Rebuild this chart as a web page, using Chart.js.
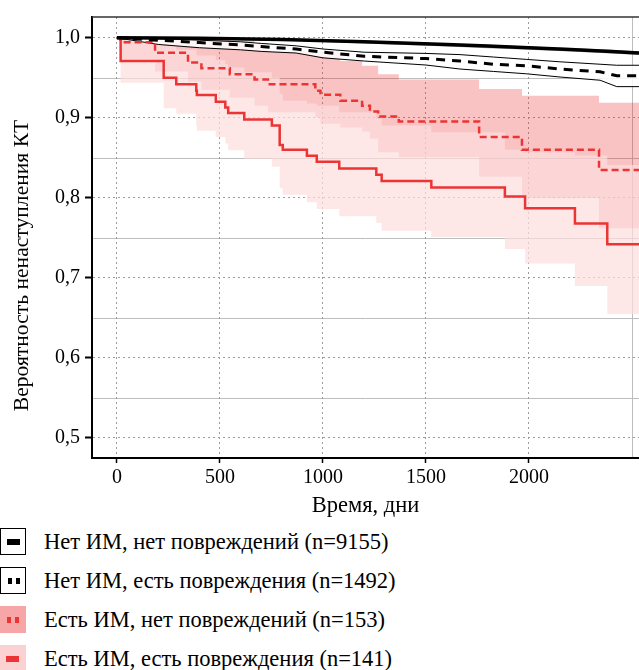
<!DOCTYPE html>
<html>
<head>
<meta charset="utf-8">
<script src="https://cdn.jsdelivr.net/npm/chart.js@4.4.1/dist/chart.umd.min.js"></script>
<style>
  body { margin: 0; background: #fff; width: 639px; height: 670px; overflow: hidden; position: relative; font-family: "Liberation Serif", serif; }
  #km { position: absolute; left: 0; top: 0; }
  .row { position: absolute; left: 0; width: 639px; height: 27px; }
  .key { position: absolute; left: 0; top: 0; width: 26px; height: 27px; box-sizing: border-box; }
  .key i { position: absolute; top: 11px; height: 6px; background: #000; }
  .lbl { position: absolute; left: 44px; top: 0; line-height: 27px; font-size: 22.5px; color: #000; white-space: nowrap; }
</style>
</head>
<body>
<canvas id="km" width="639" height="520"></canvas>
<div id="legend"></div>
<script>
// Нет ИМ, нет повреждений
const tBlack = [0, 400, 800, 1200, 1600, 1800, 2000, 2200, 2400, 2534];
const sBlack = [1, 0.9993, 0.998, 0.995, 0.9915, 0.9897, 0.9875, 0.9855, 0.983, 0.981];
const hiBlack = [1, 1.0, 0.9993, 0.9965, 0.993, 0.9912, 0.9892, 0.9872, 0.985, 0.983];
const loBlack = [1, 0.998, 0.9965, 0.993, 0.989, 0.987, 0.985, 0.983, 0.9805, 0.9785];

// Нет ИМ, есть повреждения
const tBlackDash = [0, 200, 400, 600, 700, 870, 1000, 1200, 1500, 1665, 1827, 1989, 2151, 2345, 2426, 2534];
const sBlackDash = [1, 0.997, 0.994, 0.991, 0.989, 0.986, 0.982, 0.977, 0.974, 0.971, 0.967, 0.965, 0.961, 0.9575, 0.9525, 0.9525];
const hiBlackDash = [1, 0.999, 0.997, 0.995, 0.993, 0.99, 0.986, 0.982, 0.9805, 0.979, 0.976, 0.973, 0.970, 0.967, 0.9657, 0.9657];
const loBlackDash = [1, 0.9917, 0.9876, 0.985, 0.983, 0.981, 0.975, 0.971, 0.966, 0.961, 0.958, 0.955, 0.951, 0.947, 0.939, 0.939];

// Есть ИМ, нет повреждений
const tRedDash = [0, 18, 185, 345, 410, 548, 668, 733, 963, 988, 1084, 1190, 1228, 1268, 1368, 1758, 1966, 2340, 2534];
const sRedDash = [1, 0.9946, 0.9814, 0.969, 0.962, 0.9545, 0.948, 0.942, 0.934, 0.929, 0.9215, 0.915, 0.908, 0.9017, 0.8955, 0.876, 0.860, 0.8347, 0.8347];
const hiRedDash = [1, 1, 1, 0.999, 0.998, 0.996, 0.993, 0.9835, 0.9835, 0.9835, 0.971, 0.965, 0.965, 0.9545, 0.948, 0.936, 0.9277, 0.919, 0.919];
const loRedDash = [1, 0.973, 0.958, 0.945, 0.935, 0.925, 0.915, 0.907, 0.901, 0.8925, 0.888, 0.883, 0.874, 0.857, 0.851, 0.8265, 0.80, 0.762, 0.762];

// Есть ИМ, есть повреждения
const tRed = [0, 18, 227, 288, 385, 388, 480, 526, 540, 618, 752, 790, 805, 922, 970, 1079, 1259, 1285, 1526, 1883, 1981, 2223, 2380, 2534];
const sRed = [1, 0.971, 0.950, 0.942, 0.934, 0.9285, 0.920, 0.913, 0.906, 0.898, 0.8905, 0.866, 0.860, 0.8525, 0.845, 0.8367, 0.829, 0.821, 0.813, 0.8016, 0.787, 0.768, 0.742, 0.742];
const hiRed = [1, 1, 0.99, 0.985, 0.98, 0.978, 0.972, 0.967, 0.963, 0.957, 0.95, 0.93, 0.9215, 0.918, 0.915, 0.907, 0.899, 0.8905, 0.882, 0.86, 0.857, 0.853, 0.841, 0.841];
const loRed = [1, 0.944, 0.912, 0.905, 0.89, 0.884, 0.876, 0.868, 0.8595, 0.849, 0.839, 0.812, 0.804, 0.7945, 0.786, 0.777, 0.7685, 0.759, 0.751, 0.736, 0.718, 0.690, 0.655, 0.655];

const xTicks = [0, 500, 1000, 1500, 2000];
const xMinor = [2500];
const yTicks = [0.5, 0.6, 0.7, 0.8, 0.9, 1.0];
const yTickLabels = ["0,5", "0,6", "0,7", "0,8", "0,9", "1,0"];
const yMinor = [0.55, 0.65, 0.75, 0.85, 0.95];
const xTitle = "Время, дни";
const yTitle = "Вероятность ненаступления КТ";

const legendLabels = [
  "Нет ИМ, нет повреждений (n=9155)",
  "Нет ИМ, есть повреждения (n=1492)",
  "Есть ИМ, нет повреждений (n=153)",
  "Есть ИМ, есть повреждения (n=141)",
];

const RED = "#ec3434";

function pts(t, v) {
  return t.map((x, i) => ({ x, y: v[i] }));
}

function line(data, extra) {
  return Object.assign({ data, pointRadius: 0, borderWidth: 0, fill: false, tension: 0 }, extra);
}

Chart.defaults.font.family = "'Liberation Serif', serif";
Chart.defaults.color = "#000";

// minor solid grid lines under everything, frame top and the y title on top
const extras = {
  id: "extras",
  beforeDraw(chart) {
    const { ctx, chartArea: a, scales } = chart;
    ctx.save();
    ctx.strokeStyle = "#bdbdbd";
    ctx.lineWidth = 1;
    yMinor.forEach((v) => {
      const y = Math.round(scales.y.getPixelForValue(v)) + 0.5;
      ctx.beginPath(); ctx.moveTo(a.left, y); ctx.lineTo(a.right, y); ctx.stroke();
    });
    xMinor.forEach((v) => {
      const x = Math.round(scales.x.getPixelForValue(v)) + 0.5;
      ctx.beginPath(); ctx.moveTo(x, a.top); ctx.lineTo(x, a.bottom); ctx.stroke();
    });
    ctx.restore();
  },
  afterDraw(chart) {
    const { ctx, chartArea: a } = chart;
    ctx.save();
    ctx.strokeStyle = "#333";
    ctx.lineWidth = 1.5;
    ctx.beginPath(); ctx.moveTo(a.left, a.top); ctx.lineTo(a.right, a.top); ctx.stroke();

    // y title sits low and is set a little narrow and tall
    ctx.translate(23, (a.top + a.bottom) / 2 + 28);
    ctx.rotate(-Math.PI / 2);
    ctx.scale(1.08, 1);
    ctx.fillStyle = "#000";
    ctx.font = "20px 'Liberation Serif', serif";
    ctx.textAlign = "center";
    ctx.textBaseline = "middle";
    ctx.fillText(yTitle, 0, 0);
    ctx.restore();
  },
};

new Chart(document.getElementById("km"), {
  type: "line",
  data: {
    datasets: [
      line(pts(tBlack, sBlack), { borderColor: "#000", borderWidth: 3.5 }),
      line(pts(tBlackDash, sBlackDash), { borderColor: "#000", borderWidth: 3, borderDash: [9, 7] }),
      line(pts(tRed, sRed), { borderColor: RED, borderWidth: 2.5, stepped: true }),
      line(pts(tRedDash, sRedDash), { borderColor: RED, borderWidth: 2.5, borderDash: [7, 4], stepped: true }),
      line(pts(tBlack, hiBlack), { fill: "+1", backgroundColor: "rgba(60,60,60,0.45)" }),
      line(pts(tBlack, loBlack), {}),
      line(pts(tBlackDash, hiBlackDash), { borderColor: "#000", borderWidth: 1, fill: "+1", backgroundColor: "rgba(255,255,255,0.85)" }),
      line(pts(tBlackDash, loBlackDash), { borderColor: "#000", borderWidth: 1 }),
      line(pts(tRed, hiRed), { stepped: true, fill: "+1", backgroundColor: "rgba(252,221,221,0.71)" }),
      line(pts(tRed, loRed), { stepped: true }),
      line(pts(tRedDash, hiRedDash), { stepped: true, fill: "+1", backgroundColor: "rgba(235,40,40,0.28)" }),
      line(pts(tRedDash, loRedDash), { stepped: true }),
    ],
  },
  options: {
    responsive: false,
    animation: false,
    events: [],
    layout: { padding: { top: 14, right: 0, left: 0, bottom: 0 } },
    plugins: {
      legend: { display: false },
      tooltip: { enabled: false },
      filler: { drawTime: "beforeDatasetsDraw" },
    },
    scales: {
      x: {
        type: "linear",
        min: -121,
        max: 2534,
        afterBuildTicks: (s) => { s.ticks = xTicks.map((v) => ({ value: v })); },
        afterFit: (s) => { s.height = 62; },
        ticks: { font: { size: 20 }, color: "#000", padding: 3, maxRotation: 0, callback: (v) => String(v) },
        grid: { color: "#9c9c9c", lineWidth: 1, tickColor: "#000", tickLength: 5, tickWidth: 1.5 },
        border: { display: true, color: "#000", width: 2, dash: [2, 3] },
        title: { display: true, text: xTitle, font: { size: 22.5 }, color: "#000", padding: { top: 0, bottom: 0 } },
      },
      y: {
        min: 0.475,
        max: 1.026,
        afterBuildTicks: (s) => { s.ticks = yTicks.map((v) => ({ value: v })); },
        afterFit: (s) => { s.width = 92; },
        ticks: { font: { size: 20 }, color: "#000", padding: 5, callback: (v, i) => yTickLabels[i] },
        grid: { color: "#9c9c9c", lineWidth: 1, tickColor: "#000", tickLength: 7, tickWidth: 2 },
        border: { display: true, color: "#000", width: 2, dash: [2, 3] },
        title: { display: false },
      },
    },
  },
  plugins: [extras],
});

// legend below the plot
const keys = [
  { bg: "#fff", border: "1px solid #000", marks: [[6, 13, "#000"]] },
  { bg: "#fff", border: "1px solid #000", marks: [[7, 4, "#000"], [15, 4, "#000"]] },
  { bg: "#f6a6a6", border: "none", marks: [[7, 4, RED], [15, 4, RED]] },
  { bg: "#fbd1d1", border: "none", marks: [[6, 13, RED]] },
];
const rowTops = [528, 567, 606, 645];
const legend = document.getElementById("legend");
legendLabels.forEach((text, i) => {
  const row = document.createElement("div");
  row.className = "row";
  row.style.top = rowTops[i] + "px";
  const key = document.createElement("div");
  key.className = "key";
  key.style.background = keys[i].bg;
  key.style.border = keys[i].border;
  keys[i].marks.forEach(([left, w, c]) => {
    const m = document.createElement("i");
    m.style.left = left + "px";
    m.style.width = w + "px";
    m.style.background = c;
    if (keys[i].border !== "none") m.style.top = "10px";
    key.appendChild(m);
  });
  const lbl = document.createElement("span");
  lbl.className = "lbl";
  lbl.textContent = text;
  row.appendChild(key);
  row.appendChild(lbl);
  legend.appendChild(row);
});
</script>
</body>
</html>
